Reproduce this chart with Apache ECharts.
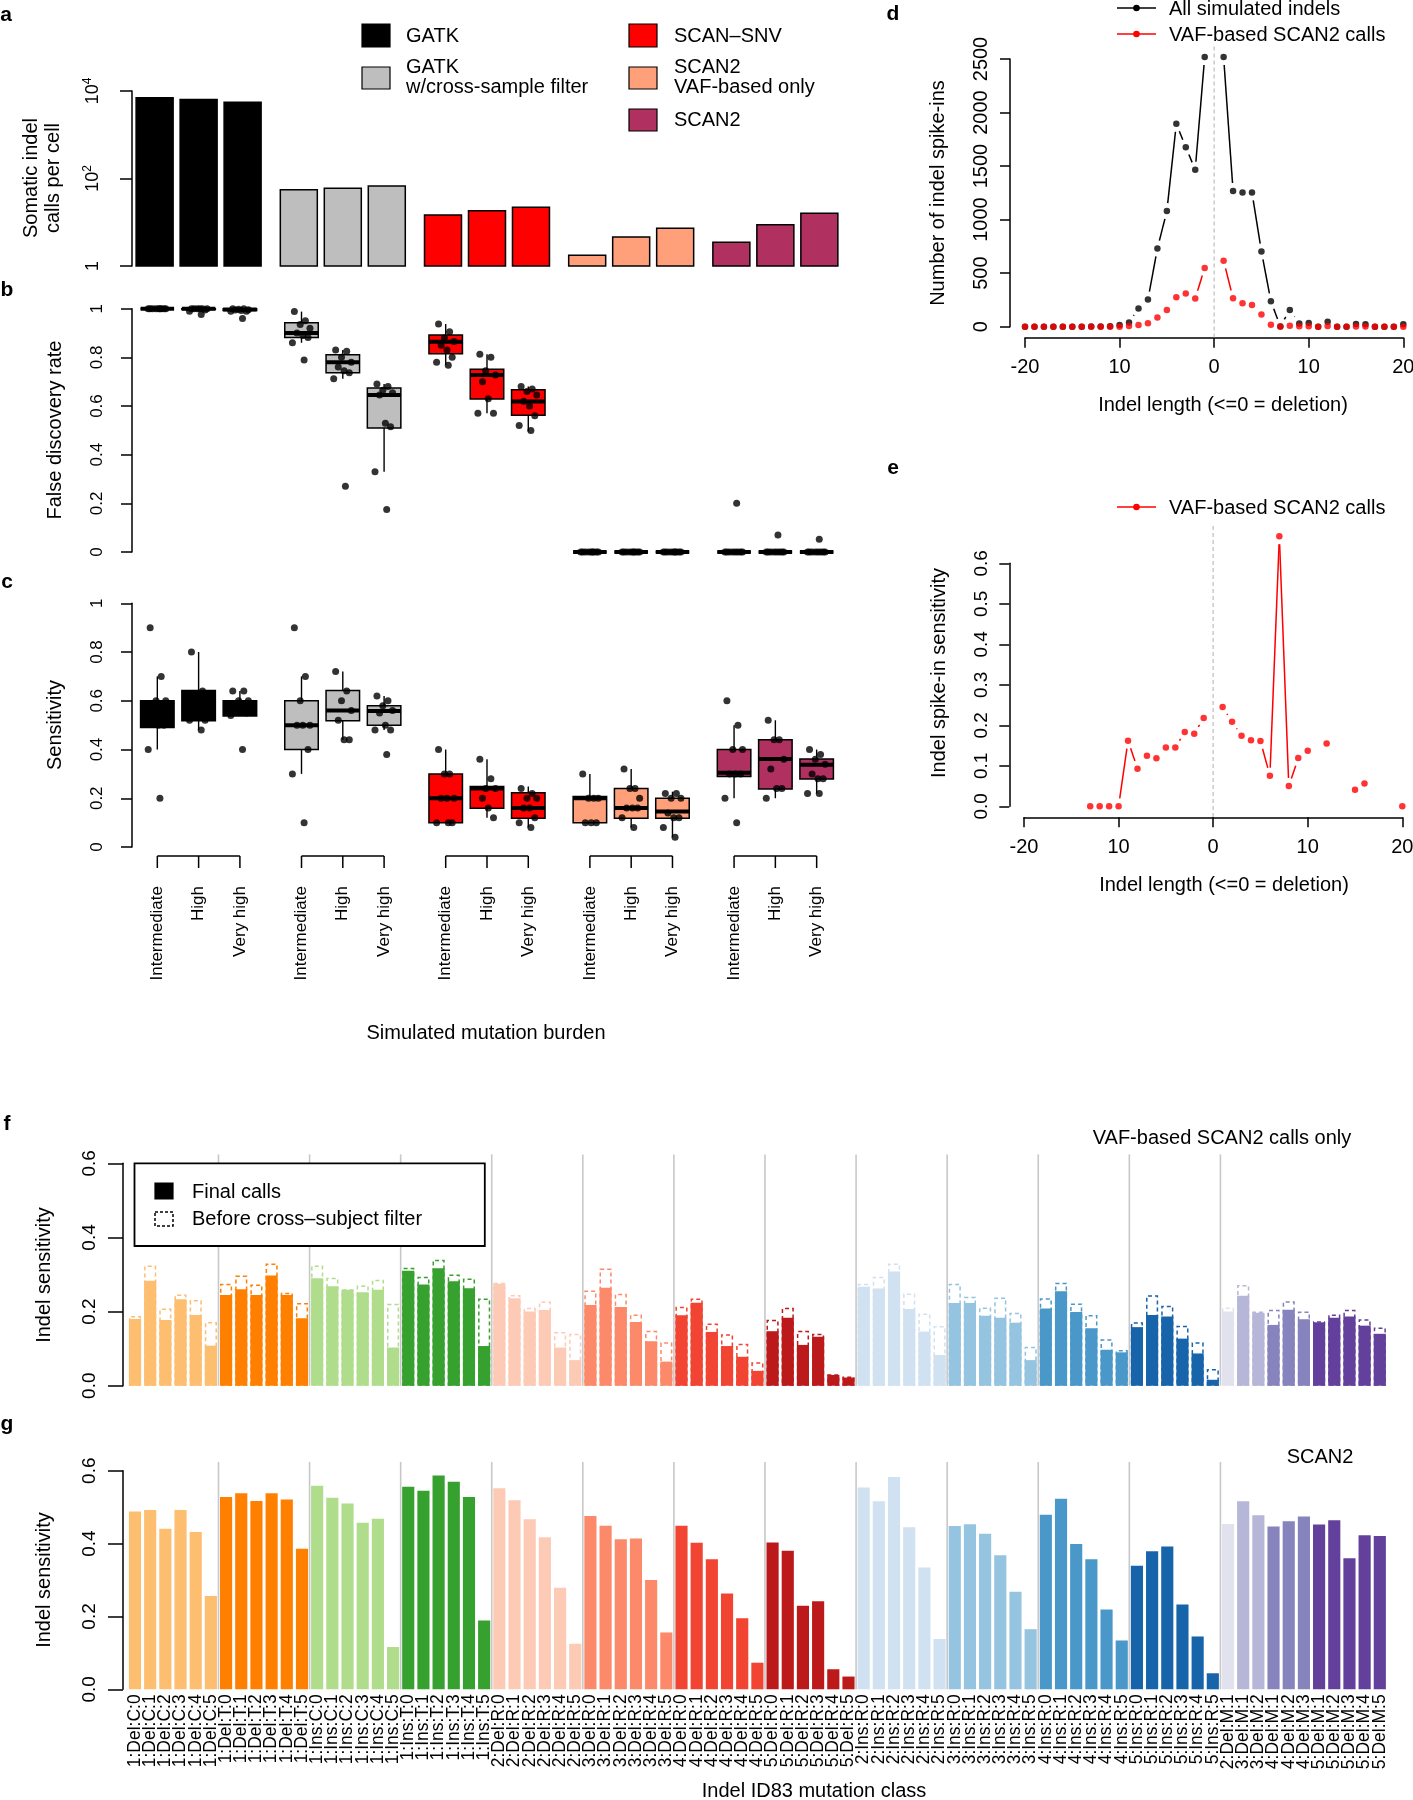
<!DOCTYPE html>
<html><head><meta charset="utf-8">
<script src="https://cdn.jsdelivr.net/npm/echarts@6/dist/echarts.min.js"></script>
<style>html,body{margin:0;padding:0;background:#fff}#c{width:1413px;height:1800px}</style>
</head><body><div id="c"></div><script>
const FONT = '"Liberation Sans", Arial, Helvetica, sans-serif';

// ---------------- DATA ----------------
// panel a
const methods = ['GATK', 'GATK w/cross-sample filter', 'SCAN\u2013SNV', 'SCAN2 VAF-based only', 'SCAN2'];
const burdens = ['Intermediate', 'High', 'Very high'];
const callsIntermediate = [7000, 55.5, 14.6, 1.75, 3.5];
const callsHigh = [6400, 59.7, 18.4, 4.6, 8.8];
const callsVeryHigh = [5500, 67.4, 21.9, 7.3, 16.0];
const callsTickLabels = ['1', '10{s|2}', '10{s|4}'];

// panel b: [min, q1, median, q3, max] per box, order = method x burden
const fdrStats = [
  [1, 1, 1, 1, 1], [0.99, 0.997, 1, 1, 1], [0.99, 0.993, 0.997, 1, 1],
  [0.86, 0.882, 0.90, 0.942, 0.988], [0.712, 0.737, 0.78, 0.811, 0.83], [0.33, 0.51, 0.645, 0.674, 0.69],
  [0.768, 0.815, 0.864, 0.892, 0.937], [0.57, 0.629, 0.727, 0.751, 0.813], [0.495, 0.562, 0.619, 0.667, 0.68],
  [0, 0, 0, 0, 0], [0, 0, 0, 0, 0], [0, 0, 0, 0, 0],
  [0, 0, 0, 0, 0], [0, 0, 0, 0, 0], [0, 0, 0, 0, 0]
];
const fdrPoints = [
  [1, 1, 1, 1, 1, 1, 1, 1, 1],
  [1, 1, 1, 1, 1, 1, 0.995, 0.99, 0.976],
  [1, 1, 0.998, 0.996, 0.995, 0.993, 0.99, 0.99, 0.96],
  [0.988, 0.95, 0.935, 0.92, 0.9, 0.89, 0.882, 0.86, 0.789],
  [0.83, 0.825, 0.8, 0.78, 0.76, 0.745, 0.737, 0.712, 0.27],
  [0.69, 0.68, 0.665, 0.655, 0.645, 0.529, 0.515, 0.33, 0.175],
  [0.937, 0.905, 0.88, 0.865, 0.85, 0.83, 0.8, 0.78, 0.768],
  [0.813, 0.8, 0.745, 0.727, 0.7, 0.63, 0.57, 0.57],
  [0.68, 0.67, 0.66, 0.645, 0.62, 0.6, 0.56, 0.52, 0.499],
  [0, 0, 0, 0, 0, 0, 0, 0, 0],
  [0, 0, 0, 0, 0, 0, 0, 0, 0],
  [0, 0, 0, 0, 0, 0, 0, 0, 0],
  [0, 0, 0, 0, 0, 0, 0, 0, 0.2],
  [0, 0, 0, 0, 0, 0, 0, 0, 0.07],
  [0, 0, 0, 0, 0, 0, 0, 0, 0.052]
];
const rateTickLabels = ['0', '0.2', '0.4', '0.6', '0.8', '1'];

// panel c
const sensStats = [
  [0.4, 0.49, 0.55, 0.6, 0.7], [0.48, 0.518, 0.56, 0.642, 0.8], [0.538, 0.538, 0.56, 0.6, 0.64],
  [0.3, 0.4, 0.5, 0.6, 0.7], [0.44, 0.518, 0.56, 0.642, 0.72], [0.48, 0.5, 0.558, 0.58, 0.62],
  [0.1, 0.1, 0.2, 0.3, 0.4], [0.12, 0.159, 0.24, 0.248, 0.36], [0.08, 0.118, 0.16, 0.223, 0.248],
  [0.1, 0.1, 0.2, 0.207, 0.3], [0.08, 0.118, 0.16, 0.24, 0.32], [0.04, 0.118, 0.146, 0.2, 0.227],
  [0.2, 0.289, 0.305, 0.4, 0.5], [0.2, 0.238, 0.361, 0.44, 0.52], [0.22, 0.279, 0.337, 0.361, 0.4]
];
const sensPoints = [
  [0.9, 0.7, 0.6, 0.6, 0.55, 0.5, 0.5, 0.4, 0.2],
  [0.8, 0.64, 0.62, 0.6, 0.58, 0.56, 0.52, 0.52, 0.48],
  [0.64, 0.64, 0.6, 0.6, 0.58, 0.56, 0.55, 0.54, 0.4],
  [0.9, 0.7, 0.6, 0.5, 0.5, 0.5, 0.4, 0.3, 0.1],
  [0.72, 0.64, 0.6, 0.56, 0.52, 0.44, 0.44],
  [0.62, 0.6, 0.58, 0.56, 0.55, 0.5, 0.48, 0.48, 0.38],
  [0.4, 0.3, 0.3, 0.2, 0.2, 0.2, 0.1, 0.1, 0.1],
  [0.36, 0.28, 0.24, 0.24, 0.2, 0.16, 0.12],
  [0.24, 0.22, 0.2, 0.2, 0.16, 0.16, 0.12, 0.1, 0.08],
  [0.3, 0.2, 0.2, 0.2, 0.1, 0.1, 0.1],
  [0.32, 0.24, 0.24, 0.2, 0.16, 0.16, 0.16, 0.12, 0.08],
  [0.22, 0.22, 0.2, 0.2, 0.14, 0.12, 0.12, 0.08, 0.04],
  [0.6, 0.5, 0.4, 0.4, 0.3, 0.3, 0.3, 0.2, 0.1],
  [0.52, 0.44, 0.44, 0.36, 0.32, 0.24, 0.24, 0.2],
  [0.4, 0.38, 0.36, 0.34, 0.3, 0.28, 0.28, 0.22, 0.22]
];

// panels d & e
const indelLength = [-20, -19, -18, -17, -16, -15, -14, -13, -12, -11, -10, -9, -8, -7, -6, -5, -4, -3, -2, -1, 0,
  1, 2, 3, 4, 5, 6, 7, 8, 9, 10, 11, 12, 13, 14, 15, 16, 17, 18, 19, 20];
const allSimulated = [0, 0, 0, 0, 0, 0, 0, 2, 3, 5, 15, 40, 171, 255, 731, 1080, 1895, 1677, 1466, 2518, null,
  2518, 1267, 1254, 1254, 703, 237, 3, 156, 31, 34, 0, 47, 0, 0, 25, 22, 0, 0, 0, 22];
const vafCalls = [0, 0, 0, 0, 0, 0, 0, 0, 0, 0, 0, 7, 16, 32, 86, 157, 275, 309, 264, 549, null,
  617, 266, 218, 203, 114, 18, 2, 8, 4, 5, 0, 7, 0, 0, 1, 1, 0, 0, 0, 0];
const vafSensitivity = [null, null, null, null, null, null, null, 0, 0, 0, 0, 0.162, 0.093, 0.125, 0.1185, 0.145, 0.145, 0.1835, 0.179, 0.218, null,
  0.245, 0.209, 0.174, 0.163, 0.161, 0.0757, 0.667, 0.05, 0.119, 0.137, null, 0.155, null, null, 0.041, 0.056, null, null, null, 0];
const lengthTickLabels = ['-20', '10', '0', '10', '20'];
const countTickLabels = ['0', '500', '1000', '1500', '2000', '2500'];

// panels f & g
const id83Classes = [
  '1:Del:C:0', '1:Del:C:1', '1:Del:C:2', '1:Del:C:3', '1:Del:C:4', '1:Del:C:5',
  '1:Del:T:0', '1:Del:T:1', '1:Del:T:2', '1:Del:T:3', '1:Del:T:4', '1:Del:T:5',
  '1:Ins:C:0', '1:Ins:C:1', '1:Ins:C:2', '1:Ins:C:3', '1:Ins:C:4', '1:Ins:C:5',
  '1:Ins:T:0', '1:Ins:T:1', '1:Ins:T:2', '1:Ins:T:3', '1:Ins:T:4', '1:Ins:T:5',
  '2:Del:R:0', '2:Del:R:1', '2:Del:R:2', '2:Del:R:3', '2:Del:R:4', '2:Del:R:5',
  '3:Del:R:0', '3:Del:R:1', '3:Del:R:2', '3:Del:R:3', '3:Del:R:4', '3:Del:R:5',
  '4:Del:R:0', '4:Del:R:1', '4:Del:R:2', '4:Del:R:3', '4:Del:R:4', '4:Del:R:5',
  '5:Del:R:0', '5:Del:R:1', '5:Del:R:2', '5:Del:R:3', '5:Del:R:4', '5:Del:R:5',
  '2:Ins:R:0', '2:Ins:R:1', '2:Ins:R:2', '2:Ins:R:3', '2:Ins:R:4', '2:Ins:R:5',
  '3:Ins:R:0', '3:Ins:R:1', '3:Ins:R:2', '3:Ins:R:3', '3:Ins:R:4', '3:Ins:R:5',
  '4:Ins:R:0', '4:Ins:R:1', '4:Ins:R:2', '4:Ins:R:3', '4:Ins:R:4', '4:Ins:R:5',
  '5:Ins:R:0', '5:Ins:R:1', '5:Ins:R:2', '5:Ins:R:3', '5:Ins:R:4', '5:Ins:R:5',
  '2:Del:M:1', '3:Del:M:1', '3:Del:M:2', '4:Del:M:1', '4:Del:M:2', '4:Del:M:3',
  '5:Del:M:1', '5:Del:M:2', '5:Del:M:3', '5:Del:M:4', '5:Del:M:5'
];
const vafFinal = [
  0.18, 0.283, 0.177, 0.233, 0.191, 0.108,
  0.245, 0.26, 0.245, 0.297, 0.245, 0.182,
  0.29, 0.268, 0.259, 0.252, 0.259, 0.103,
  0.31, 0.273, 0.317, 0.282, 0.263, 0.107,
  0.275, 0.236, 0.2, 0.204, 0.103, 0.069,
  0.218, 0.264, 0.212, 0.172, 0.12, 0.065,
  0.19, 0.224, 0.145, 0.107, 0.078, 0.04,
  0.147, 0.183, 0.11, 0.132, 0.029, 0.022,
  0.267, 0.262, 0.308, 0.207, 0.146, 0.083,
  0.223, 0.223, 0.189, 0.183, 0.17, 0.069,
  0.208, 0.255, 0.199, 0.155, 0.097, 0.09,
  0.158, 0.191, 0.187, 0.127, 0.087, 0.016,
  0.2, 0.243, 0.197, 0.164, 0.205, 0.179, 0.171, 0.183, 0.187, 0.162, 0.14
];
const vafBeforeFilter = [
  0.188, 0.324, 0.208, 0.246, 0.231, 0.172,
  0.275, 0.297, 0.273, 0.33, 0.251, 0.223,
  0.324, 0.291, 0.26, 0.27, 0.286, 0.221,
  0.318, 0.294, 0.34, 0.3, 0.289, 0.235,
  0.278, 0.245, 0.21, 0.227, 0.145, 0.14,
  0.257, 0.316, 0.248, 0.192, 0.148, 0.117,
  0.213, 0.235, 0.168, 0.139, 0.113, 0.063,
  0.178, 0.21, 0.148, 0.14, 0.031, 0.025,
  0.275, 0.294, 0.33, 0.249, 0.195, 0.161,
  0.275, 0.24, 0.211, 0.238, 0.197, 0.105,
  0.236, 0.278, 0.222, 0.191, 0.125, 0.096,
  0.171, 0.244, 0.216, 0.162, 0.117, 0.045,
  0.211, 0.272, 0.2, 0.205, 0.228, 0.2, 0.174, 0.192, 0.205, 0.179, 0.157
];
const scan2Final = [
  0.488, 0.492, 0.441, 0.492, 0.432, 0.256,
  0.528, 0.538, 0.517, 0.538, 0.521, 0.386,
  0.559, 0.526, 0.51, 0.457, 0.468, 0.116,
  0.556, 0.545, 0.587, 0.57, 0.528, 0.189,
  0.552, 0.519, 0.467, 0.417, 0.279, 0.125,
  0.476, 0.449, 0.412, 0.414, 0.3, 0.156,
  0.449, 0.402, 0.357, 0.263, 0.195, 0.073,
  0.403, 0.38, 0.229, 0.242, 0.055, 0.035,
  0.554, 0.516, 0.583, 0.445, 0.334, 0.138,
  0.448, 0.453, 0.427, 0.368, 0.268, 0.165,
  0.479, 0.523, 0.399, 0.357, 0.219, 0.134,
  0.339, 0.379, 0.392, 0.233, 0.145, 0.044,
  0.454, 0.516, 0.478, 0.447, 0.461, 0.474, 0.452, 0.464, 0.36, 0.423, 0.421
];

// ---------------- STYLES / LAYOUT ----------------
const methodColors = ['#000000', '#BEBEBE', '#FF0000', '#FFA07A', '#B03060'];
const id83Palette = {
  '1:Del:C': '#FDBE6F', '1:Del:T': '#FF8001', '1:Ins:C': '#B0DD8B', '1:Ins:T': '#36A12E',
  '2:Del:R': '#FDCAB5', '3:Del:R': '#FC8A6A', '4:Del:R': '#F14432', '5:Del:R': '#BC191A',
  '2:Ins:R': '#D0E1F2', '3:Ins:R': '#94C4DF', '4:Ins:R': '#4A98C9', '5:Ins:R': '#1764AB',
  '2:Del:M': '#E2E2EF', '3:Del:M': '#B6B6D8', '4:Del:M': '#8683BD', '5:Del:M': '#62409B'
};
const classPrefix = id83Classes.map(c => c.slice(0, 7));
const classColors = classPrefix.map(p => id83Palette[p]);
const separators = [];
classPrefix.forEach((p, i) => { if (i > 0 && i <= 72 && p !== classPrefix[i - 1]) separators.push([i, 0]); });

const LAY = { xMin: -0.462, xMax: 4.587, barOff: 0.3051, boxOff: 0.2864, barW: 37, boxW: 33.5, jitUnit: 13 / 144.2 };
const jitterPattern = [-0.55, 0.3, -0.1, 0.65, -0.35, 0.1, 0.5, -0.7, 0.2, -0.25];

// ---------------- DERIVED TABLES ----------------
const aData = [];
[callsIntermediate, callsHigh, callsVeryHigh].forEach((arr, j) => arr.forEach((v, g) => aData.push([g, j, v])));
function boxData(stats) {
  return stats.map((s, i) => { const g = Math.floor(i / 3), j = i % 3; return [g + (j - 1) * LAY.boxOff, s[0], s[1], s[2], s[3], s[4], g]; });
}
function pointData(pts) {
  const out = [];
  pts.forEach((arr, i) => { const g = Math.floor(i / 3), j = i % 3; const x0 = g + (j - 1) * LAY.boxOff;
    arr.forEach((v, k) => out.push([x0 + jitterPattern[k % jitterPattern.length] * LAY.jitUnit, v])); });
  return out;
}
function segData(xs, ys) {
  const out = [];
  for (let i = 0; i < xs.length - 1; i++) if (ys[i] != null && ys[i + 1] != null) out.push([xs[i], ys[i], xs[i + 1], ys[i + 1]]);
  return out;
}
function ptData(xs, ys) { const out = []; xs.forEach((x, i) => { if (ys[i] != null) out.push([x, ys[i]]); }); return out; }

// ---------------- RENDERERS ----------------
function barRender(params, api) {
  const x = api.value(0) + (api.value(1) - 1) * LAY.barOff;
  const top = api.coord([x, api.value(2)]), base = api.coord([x, 1]);
  return { type: 'rect', shape: { x: top[0] - LAY.barW / 2, y: top[1], width: LAY.barW, height: base[1] - top[1] },
    style: { fill: methodColors[api.value(0)], stroke: '#000', lineWidth: 1.5 } };
}
function boxRender(params, api) {
  const x = api.value(0);
  const c = k => api.coord([x, api.value(k)]);
  const pMin = c(1), pQ1 = c(2), pMed = c(3), pQ3 = c(4), pMax = c(5);
  const cx = pMin[0], hw = LAY.boxW / 2;
  const col = methodColors[api.value(6)];
  return { type: 'group', children: [
    { type: 'line', shape: { x1: cx, y1: pQ3[1], x2: cx, y2: pMax[1] }, style: { stroke: '#000', lineWidth: 1.4 } },
    { type: 'line', shape: { x1: cx, y1: pMin[1], x2: cx, y2: pQ1[1] }, style: { stroke: '#000', lineWidth: 1.4 } },
    { type: 'rect', shape: { x: cx - hw, y: pQ3[1], width: 2 * hw, height: pQ1[1] - pQ3[1] }, style: { fill: col, stroke: '#000', lineWidth: 1.5 } },
    { type: 'line', shape: { x1: cx - hw, y1: pMed[1], x2: cx + hw, y2: pMed[1] }, style: { stroke: '#000', lineWidth: 4 } }
  ] };
}
function bracketRender(params, api) {
  const g = api.value(0);
  const pts = [0, 1, 2].map(j => api.coord([g + (j - 1) * LAY.boxOff, 0]));
  const y0 = pts[0][1] + 9, y1 = y0 + 12, yl = y0 + 30;
  const ch = [{ type: 'line', shape: { x1: pts[0][0], y1: y0, x2: pts[2][0], y2: y0 }, style: { stroke: '#000', lineWidth: 1.5 } }];
  pts.forEach((p, j) => {
    ch.push({ type: 'line', shape: { x1: p[0], y1: y0, x2: p[0], y2: y1 }, style: { stroke: '#000', lineWidth: 1.5 } });
    ch.push({ type: 'text', x: p[0], y: yl, rotation: Math.PI / 2,
      style: { text: burdens[j], textAlign: 'right', textVerticalAlign: 'middle', fontSize: 17, fontFamily: FONT, fill: '#000' } });
  });
  return { type: 'group', children: ch };
}
function segRender(color) {
  return function (params, api) {
    const gap = 8;
    const p1 = api.coord([api.value(0), api.value(1)]), p2 = api.coord([api.value(2), api.value(3)]);
    const dx = p2[0] - p1[0], dy = p2[1] - p1[1], L = Math.hypot(dx, dy);
    if (L <= 2 * gap) return null;
    const ux = dx / L, uy = dy / L;
    return { type: 'line', shape: { x1: p1[0] + ux * gap, y1: p1[1] + uy * gap, x2: p2[0] - ux * gap, y2: p2[1] - uy * gap },
      style: { stroke: color, lineWidth: 1.5 } };
  };
}
function zeroLineRender(params, api) {
  const p1 = api.coord([api.value(0), api.value(1)]), p2 = api.coord([api.value(0), api.value(2)]);
  return { type: 'line', shape: { x1: p1[0], y1: p1[1], x2: p2[0], y2: p2[1] }, style: { stroke: '#BEBEBE', lineWidth: 1.2, lineDash: [4, 3] } };
}
function sepRender(params, api) {
  const k = api.value(0); const w = api.size([1, 0])[0];
  const top = api.coord([k, 0.624]), bot = api.coord([k, 0]);
  const x = top[0] - w / 2;
  return { type: 'line', shape: { x1: x, y1: top[1], x2: x, y2: bot[1] }, style: { stroke: '#C8C8C8', lineWidth: 1.6 } };
}

// ---------------- AXES ----------------
const blackLine = { show: true, onZero: false, lineStyle: { color: '#000', width: 1.5 } };
function lab(extra) { return Object.assign({ color: '#000', fontFamily: FONT }, extra); }
const hiddenX = gi => ({ type: 'value', gridIndex: gi, min: LAY.xMin, max: LAY.xMax, show: false, axisLine: { onZero: false } });
function rateY(gi) {
  return { type: 'value', gridIndex: gi, min: 0, max: 1, interval: 0.2, axisLine: blackLine,
    axisTick: { show: true, length: 11, lineStyle: { color: '#000', width: 1.5 } }, splitLine: { show: false },
    axisLabel: lab({ rotate: 90, fontSize: 17, margin: 26, formatter: (v, i) => rateTickLabels[i] }) };
}
function sensY(gi, off) {
  return { type: 'value', gridIndex: gi, min: 0, max: 0.6, interval: 0.2, offset: off, axisLine: blackLine,
    axisTick: { show: true, length: 15, lineStyle: { color: '#000', width: 1.5 } }, splitLine: { show: false },
    axisLabel: lab({ rotate: 90, fontSize: 19, margin: 24, formatter: v => v.toFixed(1) }) };
}
function lenX(gi, off) {
  return { type: 'value', gridIndex: gi, min: -20, max: 20, interval: 10, offset: off, axisLine: blackLine,
    axisTick: { show: true, length: 10, lineStyle: { color: '#000', width: 1.5 } }, splitLine: { show: false },
    axisLabel: lab({ fontSize: 20, margin: 20, formatter: (v, i) => lengthTickLabels[i] }) };
}

const dMax = Math.max(...allSimulated.filter(v => v != null));
const eMax = Math.max(...vafSensitivity.filter(v => v != null));

// ---------------- GRAPHIC (legends, titles, letters) ----------------
function T(text, x, y, o) {
  o = o || {};
  return { type: 'text', x, y, rotation: o.rot || 0, z: 100,
    style: { text, fill: '#000', fontSize: o.size || 20, fontFamily: FONT, fontWeight: o.bold ? 'bold' : 'normal',
      textAlign: o.align || 'left', textVerticalAlign: o.valign || 'middle', lineHeight: o.lh || 22 } };
}
function R(x, y, w, h, fill, extra) {
  return Object.assign({ type: 'rect', z: 100, shape: { x, y, width: w, height: h }, style: Object.assign({ fill, stroke: '#000', lineWidth: 1.2 }, extra || {}) });
}
function lineLegend(x, y, color, text) {
  return [
    { type: 'line', z: 100, shape: { x1: x, y1: y, x2: x + 39, y2: y }, style: { stroke: color, lineWidth: 1.5 } },
    { type: 'circle', z: 101, shape: { cx: x + 19.5, cy: y, r: 3.3 }, style: { fill: color } },
    T(text, x + 52, y + 1)
  ];
}
const graphics = [
  T('a', 6, 15, { bold: true, size: 21, align: 'center' }),
  T('b', 7, 290, { bold: true, size: 21, align: 'center' }),
  T('c', 7, 582, { bold: true, size: 21, align: 'center' }),
  T('d', 893, 14, { bold: true, size: 21, align: 'center' }),
  T('e', 893, 468, { bold: true, size: 21, align: 'center' }),
  T('f', 7, 1124, { bold: true, size: 21, align: 'center' }),
  T('g', 7, 1424, { bold: true, size: 21, align: 'center' }),
  // legend a
  R(362, 24, 28, 23, methodColors[0]), T('GATK', 406, 36),
  R(362, 67, 28, 22, methodColors[1]), T('GATK', 406, 67), T('w/cross-sample filter', 406, 87),
  R(629, 24, 28, 23, methodColors[2]), T('SCAN\u2013SNV', 674, 36),
  R(629, 67, 28, 22, methodColors[3]), T('SCAN2', 674, 67), T('VAF-based only', 674, 87),
  R(629, 109, 28, 22, methodColors[4]), T('SCAN2', 674, 120),
  // axis titles
  T('Somatic indel\ncalls per cell', 42, 178, { rot: Math.PI / 2, align: 'center' }),
  T('False discovery rate', 55, 430, { rot: Math.PI / 2, align: 'center' }),
  T('Sensitivity', 55, 725, { rot: Math.PI / 2, align: 'center' }),
  T('Simulated mutation burden', 486, 1033, { align: 'center' }),
  T('Number of indel spike-ins', 938, 193, { rot: Math.PI / 2, align: 'center' }),
  T('Indel length (<=0 = deletion)', 1223, 405, { align: 'center' }),
  T('Indel spike-in sensitivity', 939, 673, { rot: Math.PI / 2, align: 'center' }),
  T('Indel length (<=0 = deletion)', 1224, 885, { align: 'center' }),
  T('Indel sensitivity', 44, 1275, { rot: Math.PI / 2, align: 'center' }),
  T('Indel sensitivity', 44, 1580, { rot: Math.PI / 2, align: 'center' }),
  T('VAF-based SCAN2 calls only', 1222, 1138, { align: 'center' }),
  T('SCAN2', 1320, 1457, { align: 'center' }),
  T('Indel ID83 mutation class', 814, 1791, { align: 'center' }),
  // legend f
  R(134.5, 1163.3, 350.3, 82.7, '#fff', { lineWidth: 1.8 }),
  Object.assign(R(155, 1183, 18, 16, '#000'), { z: 101 }),
  Object.assign(R(155, 1212, 18, 14, '#fff', { lineDash: [3, 2], lineWidth: 1.5 }), { z: 101 }),
  Object.assign(T('Final calls', 192, 1192), { z: 101 }),
  Object.assign(T('Before cross\u2013subject filter', 192, 1219.5), { z: 101 })
].concat(lineLegend(1117, 8, '#000', 'All simulated indels'))
 .concat(lineLegend(1117, 34, '#FF0000', 'VAF-based SCAN2 calls'))
 .concat(lineLegend(1117, 507, '#FF0000', 'VAF-based SCAN2 calls'));

// ---------------- OPTION ----------------
const G = (left, top, width, height) => ({ left, top, width, height, containLabel: false, outerBoundsMode: 'none' });
const option = {
  animation: false,
  backgroundColor: '#fff',
  textStyle: { fontFamily: FONT },
  grid: [
    G(132, 91, 728, 175),
    G(132, 308.7, 728, 243.3),
    G(132, 603.3, 728, 243.7),
    G(1025, 59, 378.3, 267.7),
    G(1024, 563.3, 378.3, 243),
    G(127.4, 1163.3, 1260, 222.4),
    G(127.4, 1470.7, 1260, 218.6)
  ],
  xAxis: [
    hiddenX(0), hiddenX(1), hiddenX(2),
    lenX(3, 11), lenX(4, 11),
    { type: 'category', gridIndex: 5, data: id83Classes, axisLine: { show: false, onZero: false }, axisTick: { show: false }, axisLabel: { show: false } },
    { type: 'category', gridIndex: 6, data: id83Classes, axisLine: { show: false, onZero: false }, axisTick: { show: false },
      axisLabel: lab({ interval: 0, rotate: 90, fontSize: 17.5, margin: 5 }) }
  ],
  yAxis: [
    { type: 'log', gridIndex: 0, logBase: 100, min: 1, max: 10000, axisLine: blackLine,
      axisTick: { show: true, length: 12, lineStyle: { color: '#000', width: 1.5 } }, splitLine: { show: false }, minorTick: { show: false },
      axisLabel: lab({ rotate: 90, fontSize: 18, margin: 28, lineHeight: 22, formatter: (v, i) => callsTickLabels[i],
        rich: { s: { fontSize: 12, lineHeight: 22, verticalAlign: 'top', fontFamily: FONT, color: '#000' } } }) },
    rateY(1), rateY(2),
    { type: 'value', gridIndex: 3, min: 0, max: 2500, interval: 500, offset: 15, axisLine: blackLine,
      axisTick: { show: true, length: 10, lineStyle: { color: '#000', width: 1.5 } }, splitLine: { show: false },
      axisLabel: lab({ rotate: 90, fontSize: 20, margin: 19, formatter: (v, i) => countTickLabels[i] }) },
    { type: 'value', gridIndex: 4, min: 0, max: 0.6, interval: 0.1, offset: 14.7, axisLine: blackLine,
      axisTick: { show: true, length: 10, lineStyle: { color: '#000', width: 1.5 } }, splitLine: { show: false },
      axisLabel: lab({ rotate: 90, fontSize: 19, margin: 18, formatter: v => v.toFixed(1) }) },
    sensY(5, 4.4), sensY(6, 4.4)
  ],
  series: [
    // a
    { type: 'custom', xAxisIndex: 0, yAxisIndex: 0, data: aData, encode: { x: 0, y: 2 }, renderItem: barRender, clip: false },
    // b
    { type: 'custom', xAxisIndex: 1, yAxisIndex: 1, data: boxData(fdrStats), encode: { x: 0, y: [1, 5] }, renderItem: boxRender, clip: false },
    { type: 'scatter', xAxisIndex: 1, yAxisIndex: 1, data: pointData(fdrPoints), symbolSize: 7, itemStyle: { color: '#000' }, clip: false, z: 5 },
    // c
    { type: 'custom', xAxisIndex: 2, yAxisIndex: 2, data: boxData(sensStats), encode: { x: 0, y: [1, 5] }, renderItem: boxRender, clip: false },
    { type: 'scatter', xAxisIndex: 2, yAxisIndex: 2, data: pointData(sensPoints), symbolSize: 7, itemStyle: { color: '#000' }, clip: false, z: 5 },
    { type: 'custom', xAxisIndex: 2, yAxisIndex: 2, data: [[0, 0], [1, 0], [2, 0], [3, 0], [4, 0]], encode: { x: 0, y: 1 }, renderItem: bracketRender, clip: false },
    // d
    { type: 'custom', xAxisIndex: 3, yAxisIndex: 3, data: [[0, -0.04 * dMax, 1.04 * dMax]], encode: { x: 0, y: [1, 2] }, renderItem: zeroLineRender, z: 1, clip: false },
    { type: 'custom', xAxisIndex: 3, yAxisIndex: 3, data: segData(indelLength, allSimulated), encode: { x: [0, 2], y: [1, 3] }, renderItem: segRender('#000'), clip: false },
    { type: 'custom', xAxisIndex: 3, yAxisIndex: 3, data: segData(indelLength, vafCalls), encode: { x: [0, 2], y: [1, 3] }, renderItem: segRender('#FF0000'), clip: false },
    { type: 'scatter', xAxisIndex: 3, yAxisIndex: 3, data: ptData(indelLength, allSimulated), symbolSize: 6.5, itemStyle: { color: '#000' }, clip: false, z: 5 },
    { type: 'scatter', xAxisIndex: 3, yAxisIndex: 3, data: ptData(indelLength, vafCalls), symbolSize: 6.5, itemStyle: { color: '#FF0000' }, clip: false, z: 6 },
    // e
    { type: 'custom', xAxisIndex: 4, yAxisIndex: 4, data: [[0, -0.04 * eMax, 1.04 * eMax]], encode: { x: 0, y: [1, 2] }, renderItem: zeroLineRender, z: 1, clip: false },
    { type: 'custom', xAxisIndex: 4, yAxisIndex: 4, data: segData(indelLength, vafSensitivity), encode: { x: [0, 2], y: [1, 3] }, renderItem: segRender('#FF0000'), clip: false },
    { type: 'scatter', xAxisIndex: 4, yAxisIndex: 4, data: ptData(indelLength, vafSensitivity), symbolSize: 6.5, itemStyle: { color: '#FF0000' }, clip: false, z: 6 },
    // f
    { type: 'custom', xAxisIndex: 5, yAxisIndex: 5, data: separators, encode: { x: 0, y: 1 }, renderItem: sepRender, z: 1, clip: false },
    { type: 'bar', xAxisIndex: 5, yAxisIndex: 5, barGap: '-100%', barCategoryGap: '20%', z: 2,
      data: vafBeforeFilter.map((v, i) => ({ value: v, itemStyle: { borderColor: classColors[i] } })),
      itemStyle: { color: 'rgba(255,255,255,0)', borderType: [4, 3], borderWidth: 1.5 } },
    { type: 'bar', xAxisIndex: 5, yAxisIndex: 5, barGap: '-100%', barCategoryGap: '20%', z: 3,
      data: vafFinal.map((v, i) => ({ value: v, itemStyle: { color: classColors[i] } })) },
    // g
    { type: 'custom', xAxisIndex: 6, yAxisIndex: 6, data: separators, encode: { x: 0, y: 1 }, renderItem: sepRender, z: 1, clip: false },
    { type: 'bar', xAxisIndex: 6, yAxisIndex: 6, barCategoryGap: '20%', z: 3,
      data: scan2Final.map((v, i) => ({ value: v, itemStyle: { color: classColors[i] } })) }
  ],
  graphic: graphics
};

const chart = echarts.init(document.getElementById('c'), null, { renderer: 'canvas', width: 1413, height: 1800 });
chart.setOption(option);
</script></body></html>
